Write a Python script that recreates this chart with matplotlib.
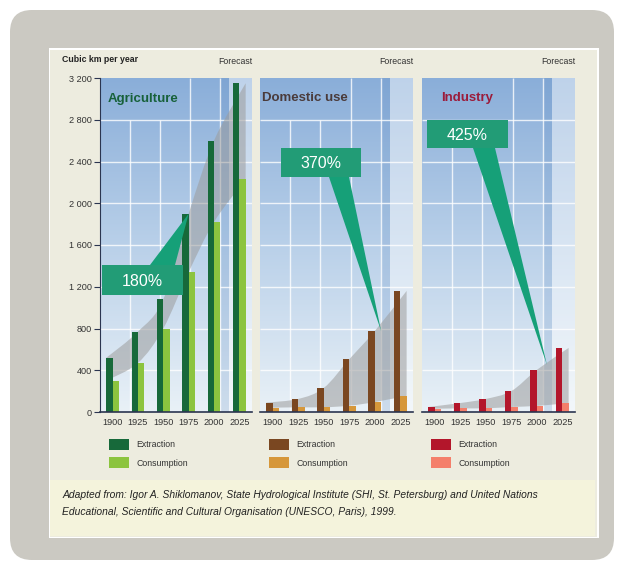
import numpy as np
import matplotlib
matplotlib.use('Agg')
import matplotlib.pyplot as plt
from matplotlib.patches import FancyBboxPatch, Rectangle, Polygon, PathPatch
from matplotlib.path import Path
from matplotlib.colors import LinearSegmentedColormap

plt.rcParams['font.family'] = ['Liberation Sans', 'DejaVu Sans']

W, H = 625, 570

years = ['1900', '1925', '1950', '1975', '2000', '2025']
agri_extraction = [520, 770, 1080, 1900, 2600, 3150]
agri_consumption = [300, 470, 800, 1340, 1820, 2230]
dom_extraction = [90, 125, 230, 505, 775, 1160]
dom_consumption = [40, 45, 45, 60, 95, 155]
ind_extraction = [48, 86, 125, 200, 403, 614]
ind_consumption = [30, 35, 35, 48, 58, 86]
yticks = [0, 400, 800, 1200, 1600, 2000, 2400, 2800, 3200]

panels = [
    ('Agriculture', agri_extraction, agri_consumption, '#17693a', '#8cc43f', '#17613a', '180%'),
    ('Domestic use', dom_extraction, dom_consumption, '#7a4721', '#d6973a', '#4a3b3b', '370%'),
    ('Industry', ind_extraction, ind_consumption, '#b3162b', '#f47f6b', '#9b1b3a', '425%'),
]


def px_rect(x0, y0, x1, y1):
    return [x0 / W, 1 - y1 / H, (x1 - x0) / W, (y1 - y0) / H]


def smooth(xs, ys):
    pts = np.column_stack([xs, ys]).astype(float)
    n = len(pts)
    verts = [pts[0]]
    for i in range(n - 1):
        p0 = pts[max(i - 1, 0)]
        p1 = pts[i]
        p2 = pts[i + 1]
        p3 = pts[min(i + 2, n - 1)]
        verts += [p1 + (p2 - p0) / 6, p2 - (p3 - p1) / 6, p2]
    return verts


fig = plt.figure(figsize=(W / 100, H / 100), dpi=100)
fig.patch.set_facecolor('white')

# background frame
bg = fig.add_axes([0, 0, 1, 1], zorder=-5)
bg.set_xlim(0, W)
bg.set_ylim(H, 0)
bg.axis('off')
bg.add_patch(FancyBboxPatch((10, 10), 604, 550, boxstyle='round,pad=0,rounding_size=22',
                            fc='#cbc9c2', ec='none'))
bg.add_patch(Rectangle((49, 48), 550, 490, fc='white', ec='none'))
bg.add_patch(Rectangle((50, 50), 547, 487, fc='#edecdf', ec='none'))
bg.add_patch(Rectangle((50, 480), 545, 56, fc='#f4f3dc', ec='none'))
bg.text(62, 60, 'Cubic km per year', fontsize=6.3, fontweight='bold', color='#222222',
        va='center', ha='left')
bg.text(62, 495, 'Adapted from: Igor A. Shiklomanov, State Hydrological Institute (SHI, St. Petersburg) '
        'and United Nations', fontsize=7.4, style='italic', color='#222222', va='center')
bg.text(62, 512, 'Educational, Scientific and Cultural Organisation (UNESCO, Paris), 1999.',
        fontsize=7.4, style='italic', color='#222222', va='center')

cmap = LinearSegmentedColormap.from_list('sky', ['#8aaed9', '#b9d0e9', '#e9f1f7'])
x = np.arange(len(years))
w = 0.25
lefts = [(100, 252), (260, 413), (422, 575)]
axes = []

for (title, ext, cons, c_ext, c_cons, c_title, pct), (x0, x1) in zip(panels, lefts):
    ax = fig.add_axes(px_rect(x0, 78, x1, 412))
    ax.imshow(np.linspace(0, 1, 256).reshape(-1, 1), cmap=cmap, extent=[-0.5, 5.5, 0, 3200],
              aspect='auto', origin='upper', zorder=0)
    ax.set_xlim(-0.5, 5.5)
    ax.set_ylim(0, 3200)
    ax.axvspan(4.24, 4.6, color='#4f80bd', alpha=0.18, lw=0, zorder=0.5)
    ax.axvspan(4.6, 5.5, color='white', alpha=0.45, lw=0, zorder=0.5)
    ax.hlines(yticks[1:-1], -0.5, 5.5, color='white', lw=1.0, alpha=0.8, zorder=1)
    ax.vlines([0.69, 1.87, 3.06, 4.24], 0, [2800, 2800, 3200, 3200], color='white', lw=1.0,
              alpha=0.8, zorder=1)

    # gray trend band
    bx = x.astype(float).copy()
    bx[0] -= 0.25
    bx[-1] += 0.25
    up = smooth(bx, ext)
    lo = smooth(bx[::-1], cons[::-1])
    verts = up + lo + [up[0]]
    codes = ([Path.MOVETO] + [Path.CURVE4] * (len(up) - 1) + [Path.LINETO]
             + [Path.CURVE4] * (len(lo) - 1) + [Path.CLOSEPOLY])
    ax.add_patch(PathPatch(Path(verts, codes), fc='#9c9c9c', ec='none', alpha=0.55, zorder=2))

    ax.bar(x - w / 2, ext, w, color=c_ext, zorder=3, label='Extraction')
    ax.bar(x + w / 2, cons, w, color=c_cons, zorder=3, label='Consumption')

    ax.set_xticks(x)
    ax.set_xticklabels(years)
    ax.tick_params(axis='x', length=0, pad=4, labelsize=6.6, labelcolor='#333333')
    for s in ['top', 'right', 'left']:
        ax.spines[s].set_visible(False)
    ax.spines['bottom'].set_color('#2b3550')
    ax.spines['bottom'].set_linewidth(1.2)
    ax.spines['bottom'].set_zorder(5)

    if title == 'Agriculture':
        ax.spines['left'].set_visible(True)
        ax.spines['left'].set_color('#2b3550')
        ax.set_yticks(yticks)
        ax.set_yticklabels([f'{v:,}'.replace(',', ' ') for v in yticks])
        ax.tick_params(axis='y', length=4, width=0.8, color='#2b3550', labelsize=6.6,
                       labelcolor='#333333', pad=2)
        ax.text(8 / 152, 0.937, title, transform=ax.transAxes, fontsize=9.5, fontweight='bold',
                color=c_title, ha='left', va='center', zorder=6)
    elif title == 'Domestic use':
        ax.set_yticks([])
        ax.text(2 / 153, 0.94, title, transform=ax.transAxes, fontsize=9.5, fontweight='bold',
                color=c_title, ha='left', va='center', zorder=6)
    else:
        ax.set_yticks([])
        ax.text(0.294, 0.94, title, transform=ax.transAxes, fontsize=9.5, fontweight='bold',
                color=c_title, ha='center', va='center', zorder=6)

    ax.text(1.0, 1 + 16 / 334, 'Forecast', transform=ax.transAxes, fontsize=6.3,
            color='#333333', ha='right', va='center')
    ax.legend(loc='upper left', bbox_to_anchor=(9 / 152, -27 / 334), frameon=False,
              fontsize=6.3, handlelength=2.3, handleheight=1.6, handletextpad=0.8,
              labelspacing=0.8, borderpad=0, borderaxespad=0, labelcolor='#333333')
    axes.append(ax)

# callouts
ov = fig.add_axes([0, 0, 1, 1], zorder=10)
ov.set_xlim(0, W)
ov.set_ylim(H, 0)
ov.axis('off')
ov.patch.set_alpha(0)

callouts = [
    (axes[0], (3.0, agri_extraction[3]), (102, 265, 183, 295), (150, 175), 'top'),
    (axes[1], (4.25, dom_extraction[4]), (281, 148, 361, 177), (329, 349), 'bottom'),
    (axes[2], (4.4, ind_extraction[4] * 1.12), (427, 120, 508, 148), (473, 495), 'bottom'),
]
for ax, tip, (bx0, by0, bx1, by1), (t0, t1), side in callouts:
    dx, dy = ax.transData.transform(tip)
    tx, ty = dx, H - dy
    base_y = by0 if side == 'top' else by1
    ov.add_patch(Polygon([(t0, base_y), (t1, base_y), (tx, ty)], closed=True,
                         fc='#16a078', ec='none'))
    ov.add_patch(Rectangle((bx0, by0), bx1 - bx0, by1 - by0, fc='#229c76', ec='none'))
pcts = [p[6] for p in panels]
for (ax, tip, (bx0, by0, bx1, by1), _, _), pct in zip(callouts, pcts):
    ov.text((bx0 + bx1) / 2, (by0 + by1) / 2 + 1, pct, color='white', fontsize=11.5,
            ha='center', va='center')

fig.savefig('out.png', dpi=100)
